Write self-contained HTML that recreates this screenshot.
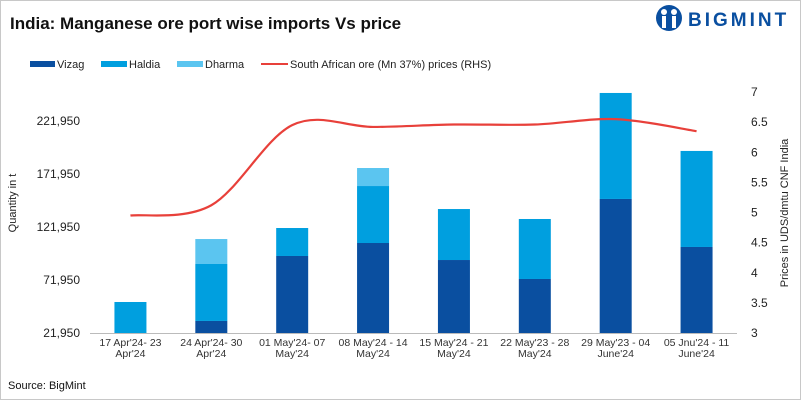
<!DOCTYPE html>
<html><head><meta charset="utf-8"><style>
body{margin:0;background:#fff;font-family:"Liberation Sans",sans-serif;}
#wrap{position:relative;width:799px;height:398px;border:1px solid #c8c8c8;overflow:hidden;}
</style></head><body>
<div id="wrap">
<svg id="chart" width="801" height="400" viewBox="0 0 801 400" style="position:absolute;left:-1px;top:-1px">
<text x="10" y="29" font-size="17" font-weight="bold" fill="#111">India: Manganese ore port wise imports Vs price</text>
<g>
<circle cx="669" cy="18" r="13" fill="#0a4fa0"/>
<circle cx="664" cy="12" r="3" fill="#fff"/><circle cx="674" cy="12" r="3" fill="#fff"/>
<rect x="662" y="16" width="4" height="12" fill="#fff"/><rect x="672" y="16" width="4" height="12" fill="#fff"/>
<text x="688" y="26" font-size="19" font-weight="bold" fill="#0a4fa0" letter-spacing="3">BIGMINT</text>
</g>
<g font-size="11" fill="#222">
<g><rect x="30" y="61" width="25" height="6" fill="#0a4fa0"/><text x="57" y="68">Vizag</text></g>
<g><rect x="101" y="61" width="26" height="6" fill="#009fdf"/><text x="129" y="68">Haldia</text></g>
<g><rect x="177" y="61" width="26" height="6" fill="#5bc5f0"/><text x="205" y="68">Dharma</text></g>
<g><rect x="261" y="63" width="27" height="2" fill="#e8403a"/><text x="290" y="68">South African ore (Mn 37%) prices (RHS)</text></g>
</g>
<text transform="translate(16,203) rotate(-90)" font-size="11" fill="#222" text-anchor="middle">Quantity in t</text>
<text transform="translate(788,213) rotate(-90)" font-size="11" fill="#222" text-anchor="middle">Prices in UDS/dmtu CNF India</text>
<g id="plot"></g>
<text x="8" y="389" font-size="11" fill="#111">Source: BigMint</text>
</svg>
</div>
<script>
const categories=[["17 Apr'24- 23","Apr'24"],["24 Apr'24- 30","Apr'24"],["01 May'24- 07","May'24"],["08 May'24 - 14","May'24"],["15 May'24 - 21","May'24"],["22 May'23 - 28","May'24"],["29 May'23 - 04","June'24"],["05 Jnu'24 - 11","June'24"]];
const vizag=[0,33300,94600,106850,90800,72900,148400,103100];
const haldia=[51200,53750,26400,53750,48100,56600,100000,90600];
const dharma=[0,23550,0,17000,0,0,0,0];
const price=[4.95,5.12,6.45,6.42,6.46,6.46,6.55,6.35];
const leftTicks=[21950,71950,121950,171950,221950];
const rightTicks=[3,3.5,4,4.5,5,5.5,6,6.5,7];

const NS="http://www.w3.org/2000/svg";
const plot=document.getElementById('plot');
const x0=90,x1=737,yb=333;
const yL=v=>yb-(v-21950)*53/50000;
const yR=v=>yb-(v-3)*60.25;
const band=(x1-x0)/categories.length;
const xc=i=>x0+band*(i+0.5);
function mk(t,a){const e=document.createElementNS(NS,t);for(const k in a)e.setAttribute(k,a[k]);plot.appendChild(e);return e;}
const ax=mk('line',{x1:x0,x2:x1,y1:yb+0.5,y2:yb+0.5,stroke:'#bbb'});


leftTicks.forEach(v=>{const t=mk('text',{x:80,y:yL(v)+4,'font-size':12,fill:'#222','text-anchor':'end'});t.textContent=v.toLocaleString('en-US');

});
rightTicks.forEach(v=>{const t=mk('text',{x:751,y:yR(v)+4,'font-size':12,fill:'#222'});t.textContent=v;

});
const series=[[vizag,'#0a4fa0','vizag'],[haldia,'#009fdf','haldia'],[dharma,'#5bc5f0','dharma']];
categories.forEach((c,i)=>{
 let cum=0;
 series.forEach(([arr,col,nm])=>{
  const a=Math.max(cum,21950),b=cum+arr[i];cum=b;
  if(b>a){const r=mk('rect',{x:xc(i)-16,width:32,y:yL(b),height:yL(a)-yL(b),fill:col});
  
  }
 });
 c.forEach((ln,k)=>{const t=mk('text',{x:xc(i),y:346+k*11,'font-size':10.5,fill:'#333','text-anchor':'middle'});t.textContent=ln;
 
 });
});
const pts=price.map((v,i)=>[xc(i),yR(v)]);
let d='M'+pts[0][0]+','+pts[0][1];
for(let i=0;i<pts.length-1;i++){const p0=pts[Math.max(0,i-1)],p1=pts[i],p2=pts[i+1],p3=pts[Math.min(pts.length-1,i+2)];
 const c1=[p1[0]+(p2[0]-p0[0])/6,p1[1]+(p2[1]-p0[1])/6],c2=[p2[0]-(p3[0]-p1[0])/6,p2[1]-(p3[1]-p1[1])/6];
 d+=` C${c1[0]},${c1[1]} ${c2[0]},${c2[1]} ${p2[0]},${p2[1]}`;}
const pl=mk('path',{d:d,fill:'none',stroke:'#e8403a','stroke-width':2.2});


</script>
</body></html>
